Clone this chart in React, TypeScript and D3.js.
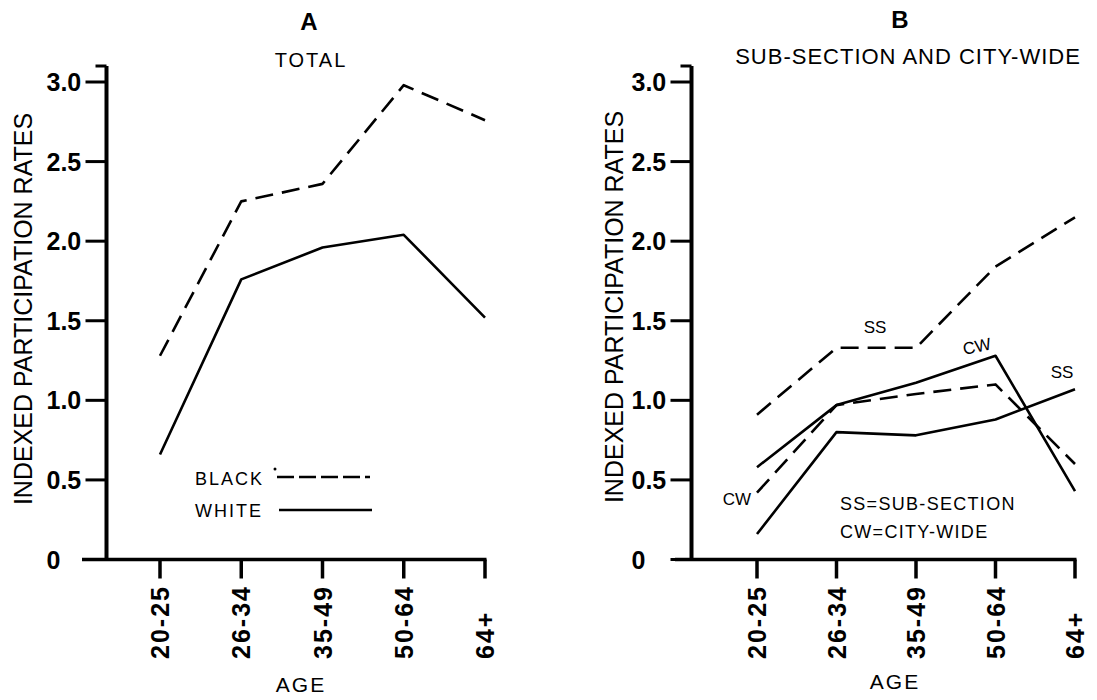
import * as d3 from 'd3';
import React from 'react';

const ageGroups = ['20-25', '26-34', '35-49', '50-64', '64+'];
const yTicks = [0, 0.5, 1, 1.5, 2, 2.5, 3];
const yTickLabels = ['0', '0.5', '1.0', '1.5', '2.0', '2.5', '3.0'];

// panel A: total
const blackTotal = [1.28, 2.25, 2.36, 2.98, 2.76];
const whiteTotal = [0.66, 1.76, 1.96, 2.04, 1.52];

// panel B: sub-section and city-wide
const blackSubSection = [0.91, 1.33, 1.33, 1.84, 2.15];
const blackCityWide = [0.42, 0.97, 1.04, 1.1, 0.6];
const whiteCityWide = [0.58, 0.97, 1.11, 1.28, 0.43];
const whiteSubSection = [0.16, 0.8, 0.78, 0.88, 1.07];

const font = 'Liberation Sans, Arial, Helvetica, sans-serif';
const DASH = '18 9';

const y = d3.scaleLinear().domain([0, 3]).range([559.5, 82]);

function Axes({ x, axisX, startX, labelX, labelY }) {
  const y0 = y(0);
  const endX = x.range()[1];
  return (
    <g>
      <line x1={axisX} x2={axisX} y1={66} y2={y0 + 1.5} stroke="#000" strokeWidth={4} />
      <line x1={axisX - 11} x2={axisX} y1={66} y2={66} stroke="#000" strokeWidth={3} />
      <line x1={startX} x2={endX + 1.5} y1={y0} y2={y0} stroke="#000" strokeWidth={3.5} />
      {yTicks.map((t, i) => (
        <g key={t}>
          <line x1={axisX - 21} x2={axisX} y1={y(t)} y2={y(t)} stroke="#000" strokeWidth={3} />
          <text x={axisX - 60} y={y(t) + 9} fontSize={25} fontWeight="bold" fontFamily={font}>
            {yTickLabels[i]}
          </text>
        </g>
      ))}
      {ageGroups.map((a) => (
        <g key={a}>
          <line x1={x(a)} x2={x(a)} y1={y0} y2={y0 + 19} stroke="#000" strokeWidth={3.5} />
          <text
            transform={`translate(${x(a) + 9},659) rotate(-90)`}
            fontSize={25}
            fontWeight="bold"
            letterSpacing={2}
            fontFamily={font}
          >
            {a}
          </text>
        </g>
      ))}
      <text
        transform={`translate(${labelX},${labelY}) rotate(-90)`}
        textAnchor="middle"
        fontSize={25}
        fontFamily={font}
      >
        INDEXED PARTICIPATION RATES
      </text>
    </g>
  );
}

function Series({ x, values, dashed }) {
  const line = d3
    .line<number>()
    .x((_, i) => x(ageGroups[i]))
    .y((d) => y(d));
  return (
    <path
      d={line(values)}
      fill="none"
      stroke="#000"
      strokeWidth={2.6}
      strokeDasharray={dashed ? DASH : undefined}
      strokeLinejoin="round"
    />
  );
}

export default function App() {
  const xA = d3.scalePoint().domain(ageGroups).range([160, 485]);
  const xB = d3.scalePoint().domain(ageGroups).range([757, 1075]);

  return (
    <svg
      width={1097}
      height={700}
      style={{ position: 'absolute', left: 0, top: 0, background: '#fff' }}
    >
      {/* panel A */}
      <text x={309} y={30} textAnchor="middle" fontSize={24} fontWeight="bold" fontFamily={font}>
        A
      </text>
      <text x={311} y={67} textAnchor="middle" fontSize={20} letterSpacing={2} fontFamily={font}>
        TOTAL
      </text>
      <Axes x={xA} axisX={106.5} startX={82} labelX={32} labelY={309} />
      <Series x={xA} values={blackTotal} dashed />
      <Series x={xA} values={whiteTotal} />
      <text x={195} y={485} fontSize={18} letterSpacing={2} fontFamily={font}>
        BLACK
      </text>
      <circle cx={275} cy={469} r={1.5} fill="#000" />
      <line x1={277} x2={370} y1={477} y2={477} stroke="#000" strokeWidth={2.6} strokeDasharray="17 5" />
      <text x={195} y={517} fontSize={18} letterSpacing={2} fontFamily={font}>
        WHITE
      </text>
      <line x1={279} x2={372} y1={510} y2={510} stroke="#000" strokeWidth={2.6} />
      <text x={301} y={692} textAnchor="middle" fontSize={21} letterSpacing={2} fontFamily={font}>
        AGE
      </text>

      {/* panel B */}
      <text x={900} y={28} textAnchor="middle" fontSize={24} fontWeight="bold" fontFamily={font}>
        B
      </text>
      <text x={908} y={64} textAnchor="middle" fontSize={22} letterSpacing={1} fontFamily={font}>
        SUB-SECTION AND CITY-WIDE
      </text>
      <Axes x={xB} axisX={691.5} startX={675} labelX={623} labelY={307} />
      <Series x={xB} values={blackSubSection} dashed />
      <Series x={xB} values={blackCityWide} dashed />
      <Series x={xB} values={whiteCityWide} />
      <Series x={xB} values={whiteSubSection} />
      <text x={875} y={333} textAnchor="middle" fontSize={17} fontFamily={font}>
        SS
      </text>
      <text
        transform="translate(978,352) rotate(-12)"
        textAnchor="middle"
        fontSize={17}
        fontFamily={font}
      >
        CW
      </text>
      <text x={1062} y={378} textAnchor="middle" fontSize={17} fontFamily={font}>
        SS
      </text>
      <text x={737} y={505} textAnchor="middle" fontSize={17} fontFamily={font}>
        CW
      </text>
      <text x={840} y={510} fontSize={18} letterSpacing={1.3} fontFamily={font}>
        SS=SUB-SECTION
      </text>
      <text x={840} y={538} fontSize={18} letterSpacing={1.3} fontFamily={font}>
        CW=CITY-WIDE
      </text>
      <text x={895} y={689} textAnchor="middle" fontSize={21} letterSpacing={2} fontFamily={font}>
        AGE
      </text>
    </svg>
  );
}
